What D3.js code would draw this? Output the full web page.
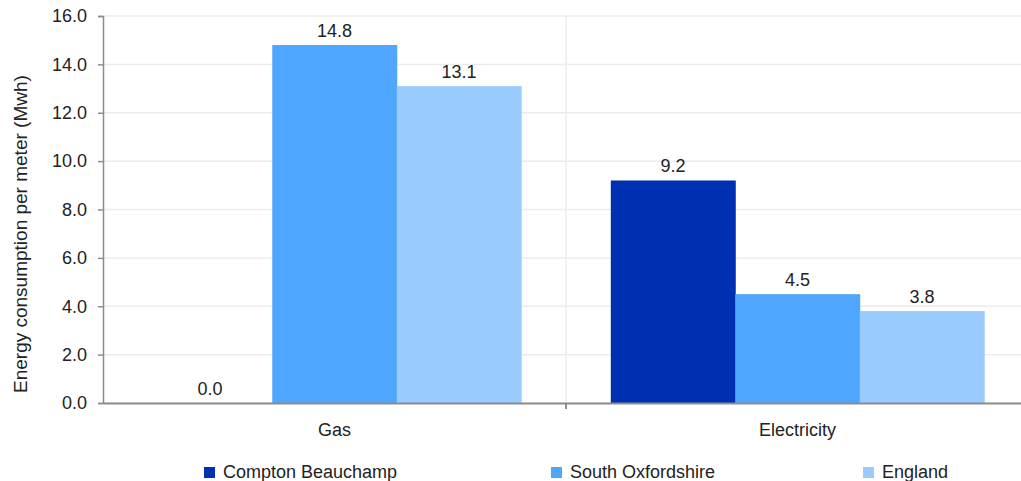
<!DOCTYPE html>
<html>
<head>
<meta charset="utf-8">
<script src="https://cdn.jsdelivr.net/npm/d3@7"></script>
<style>
  body { margin: 0; background: #fff; }
  text { font-family: "Liberation Sans", Arial, sans-serif; fill: #222; }
</style>
</head>
<body>
<div id="chart"></div>
<script>
var categories = ["Gas", "Electricity"];
var seriesNames = ["Compton Beauchamp", "South Oxfordshire", "England"];
var compton = [0.0, 9.2];
var southOxon = [14.8, 4.5];
var england = [13.1, 3.8];
var yTicks = [0, 2, 4, 6, 8, 10, 12, 14, 16];
var colors = ["#0030b2", "#4ea6ff", "#99cbff"];

var seriesValues = [compton, southOxon, england];

var margin = {top: 16, right: -8, bottom: 78, left: 103},
    width = 1021 - margin.left - margin.right,
    height = 481 - margin.top - margin.bottom;

var svg = d3.select("#chart")
  .append("svg")
    .attr("width", 1021)
    .attr("height", 481)
  .append("g")
    .attr("transform", "translate(" + margin.left + "," + margin.top + ")");

var x0 = d3.scaleBand()
  .domain(categories)
  .range([0, width]);

var x1 = d3.scaleBand()
  .domain(seriesNames)
  .range([0, x0.bandwidth()])
  .paddingOuter(0.36);

var y = d3.scaleLinear()
  .domain([0, 16])
  .range([height, 0]);

// horizontal gridlines
svg.append("g")
  .selectAll("line")
  .data(yTicks)
  .enter()
  .append("line")
    .attr("x1", 0)
    .attr("x2", width)
    .attr("y1", d => y(d))
    .attr("y2", d => y(d))
    .attr("stroke", "#ececec")
    .attr("stroke-width", 1.5);

// vertical separator between categories
svg.append("line")
  .attr("x1", x0("Electricity"))
  .attr("x2", x0("Electricity"))
  .attr("y1", 0)
  .attr("y2", height)
  .attr("stroke", "#ececec")
  .attr("stroke-width", 1.5);

var rows = categories.map(function(c, i) {
  return seriesNames.map(function(s, j) {
    return {cat: c, name: s, value: seriesValues[j][i], color: colors[j]};
  });
});

var groups = svg.selectAll(".grp")
  .data(rows)
  .enter()
  .append("g")
    .attr("transform", (d, i) => "translate(" + x0(categories[i]) + ",0)");

groups.selectAll("rect")
  .data(d => d)
  .enter()
  .append("rect")
    .attr("x", d => x1(d.name))
    .attr("width", x1.bandwidth() + 0.5)
    .attr("y", d => y(d.value))
    .attr("height", d => height - y(d.value))
    .attr("fill", d => d.color);

groups.selectAll(".lbl")
  .data(d => d)
  .enter()
  .append("text")
    .attr("x", d => x1(d.name) + x1.bandwidth() / 2)
    .attr("y", d => y(d.value) - 8)
    .attr("text-anchor", "middle")
    .style("font-size", "18px")
    .text(d => d.value.toFixed(1));

// y axis
var yAxis = svg.append("g")
  .call(d3.axisLeft(y).tickValues(yTicks).tickSize(5).tickPadding(11).tickFormat(d3.format(".1f")));
yAxis.select(".domain").attr("stroke", "#8c8c8c").attr("stroke-width", 1.5);
yAxis.selectAll(".tick line").attr("stroke", "#8c8c8c").attr("stroke-width", 1.5);
yAxis.selectAll("text").style("font-size", "18px").attr("fill", "#222");

// x axis
var xAxis = svg.append("g")
  .attr("transform", "translate(0," + height + ")")
  .call(d3.axisBottom(x0).tickSize(0).tickPadding(20));
xAxis.select(".domain").attr("stroke", "#8c8c8c").attr("stroke-width", 2);
xAxis.selectAll("text").style("font-size", "18px").attr("fill", "#222");

svg.append("line")
  .attr("x1", x0("Electricity"))
  .attr("x2", x0("Electricity"))
  .attr("y1", height)
  .attr("y2", height + 6)
  .attr("stroke", "#8c8c8c")
  .attr("stroke-width", 2);

// y label
svg.append("text")
  .attr("transform", "rotate(-90)")
  .attr("x", -(393 - margin.top))
  .attr("y", -76)
  .attr("text-anchor", "start")
  .style("font-size", "19px")
  .text("Energy consumption per meter (Mwh)");

// legend
var legendX = [204, 551, 863];
var legend = svg.selectAll(".legend")
  .data(seriesNames)
  .enter()
  .append("g")
    .attr("transform", (d, i) => "translate(" + (legendX[i] - margin.left) + "," + (467 - margin.top) + ")");
legend.append("rect")
  .attr("width", 11)
  .attr("height", 11)
  .attr("fill", (d, i) => colors[i]);
legend.append("text")
  .attr("x", 19)
  .attr("y", 11)
  .style("font-size", "18px")
  .text(d => d);
</script>
</body>
</html>
